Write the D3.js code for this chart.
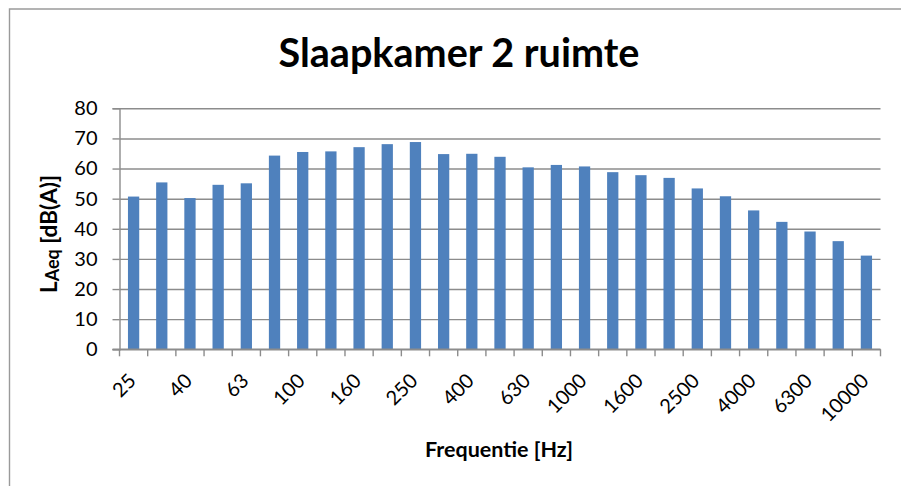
<!DOCTYPE html>
<html>
<head>
<meta charset="utf-8">
<script src="https://cdn.jsdelivr.net/npm/d3@7"></script>
<style>
  html, body { margin: 0; padding: 0; background: #ffffff; }
  svg { display: block; }
  text { font-family: Lato, "Open Sans", "Noto Sans", sans-serif; fill: #000; }
</style>
</head>
<body>
<svg id="chart" width="901" height="486"></svg>
<script>
// One-third-octave band centre frequencies (Hz)
const frequencies = ["25", "31.5", "40", "50", "63", "80", "100", "125", "160", "200",
  "250", "315", "400", "500", "630", "800", "1000", "1250", "1600", "2000",
  "2500", "3150", "4000", "5000", "6300", "8000", "10000"];
// Equivalent sound level per band, dB(A)
const levels = [50.7, 55.4, 50.2, 54.6, 55.1, 64.3, 65.5, 65.7, 67.1, 68.1,
  68.8, 64.8, 64.9, 63.9, 60.4, 61.2, 60.7, 58.8, 57.8, 56.9,
  53.4, 50.8, 46.1, 42.3, 39.1, 35.9, 31.1];
const yTicks = [0, 10, 20, 30, 40, 50, 60, 70, 80];
const titleText = "Slaapkamer 2 ruimte";
const xTitle = "Frequentie [Hz]";

const svg = d3.select("#chart");
const plot = { left: 119.5, right: 880.5, top: 108.3, bottom: 349.3 };
const gridColor = "#8c8c8c";
const tickFont = 20;

// Chart frame (top and left edges visible)
svg.append("path")
  .attr("d", `M9.5,486 L9.5,9 L901,9`)
  .attr("fill", "none").attr("stroke", "#9a9a9a").attr("stroke-width", 1.4);

const y = d3.scaleLinear().domain([0, 80]).range([plot.bottom, plot.top]);
const x = d3.scaleBand().domain(frequencies)
  .range([plot.left, plot.right]).paddingInner(0.6).paddingOuter(0.3);
const xCat = d3.scaleBand().domain(frequencies).range([plot.left, plot.right]).padding(0);

// Horizontal gridlines with outward tick marks
const yAxis = d3.axisLeft(y).tickValues(yTicks).tickSize(7).tickPadding(15)
  .tickFormat(d3.format("d"));
const gy = svg.append("g").attr("transform", `translate(${plot.left},0)`).call(yAxis);
gy.select(".domain").attr("stroke", gridColor).attr("stroke-width", 1.4);
gy.selectAll(".tick line").attr("stroke", gridColor).attr("stroke-width", 1.4);
gy.selectAll(".tick text").attr("font-size", tickFont).attr("font-family", "Lato, sans-serif")
  .attr("fill", "#000");
gy.selectAll(".tick").append("line")
  .attr("x1", 0).attr("x2", plot.right - plot.left)
  .attr("stroke", gridColor).attr("stroke-width", 1.4);

// Bars
svg.append("g").selectAll("rect").data(levels).join("rect")
  .attr("x", (d, i) => x(frequencies[i]))
  .attr("width", x.bandwidth())
  .attr("y", d => y(d))
  .attr("height", d => y(0) - y(d))
  .attr("fill", "#4f81bd");

// Category axis: ticks on band boundaries, labels on every other band
const boundaries = frequencies.map(f => xCat(f)).concat([plot.right]);
const gx = svg.append("g");
gx.append("line").attr("x1", plot.left - 7).attr("x2", plot.right)
  .attr("y1", y(0)).attr("y2", y(0))
  .attr("stroke", gridColor).attr("stroke-width", 1.4);
gx.selectAll("line.tk").data(boundaries).join("line").attr("class", "tk")
  .attr("x1", d => d).attr("x2", d => d)
  .attr("y1", y(0)).attr("y2", y(0) + 7)
  .attr("stroke", gridColor).attr("stroke-width", 1.4);
gx.selectAll("text").data(frequencies.filter((f, i) => i % 2 === 0)).join("text")
  .attr("transform", f => `translate(${xCat(f) + xCat.bandwidth() / 2 + 3.5},382) rotate(-45)`)
  .attr("text-anchor", "end")
  .attr("font-size", tickFont)
  .text(f => f);

// Resize a text element so that it spans the given width
function fitWidth(node, width) {
  const fs = parseFloat(node.getAttribute("font-size"));
  const w = node.getComputedTextLength();
  node.setAttribute("font-size", (fs * width / w).toFixed(2));
}

// Title
const t = svg.append("text")
  .attr("x", 459).attr("y", 66.5).attr("text-anchor", "middle")
  .attr("font-weight", "bold").attr("font-size", 36).text(titleText);
fitWidth(t.node(), 361);

// X axis title
const xt = svg.append("text")
  .attr("x", 499).attr("y", 456.5).attr("text-anchor", "middle")
  .attr("font-weight", "bold").attr("font-size", 20).text(xTitle);
fitWidth(xt.node(), 148);

// Y axis title with subscripted "Aeq"
const yt = svg.append("text")
  .attr("transform", "translate(56.5,234) rotate(-90)")
  .attr("text-anchor", "middle")
  .attr("font-weight", "bold").attr("font-size", 20);
yt.append("tspan").text("L");
yt.append("tspan").attr("font-size", "0.8em").attr("dy", 2).text("Aeq");
yt.append("tspan").attr("dy", -2).text(" [dB(A)]");
fitWidth(yt.node(), 118);
</script>
</body>
</html>
